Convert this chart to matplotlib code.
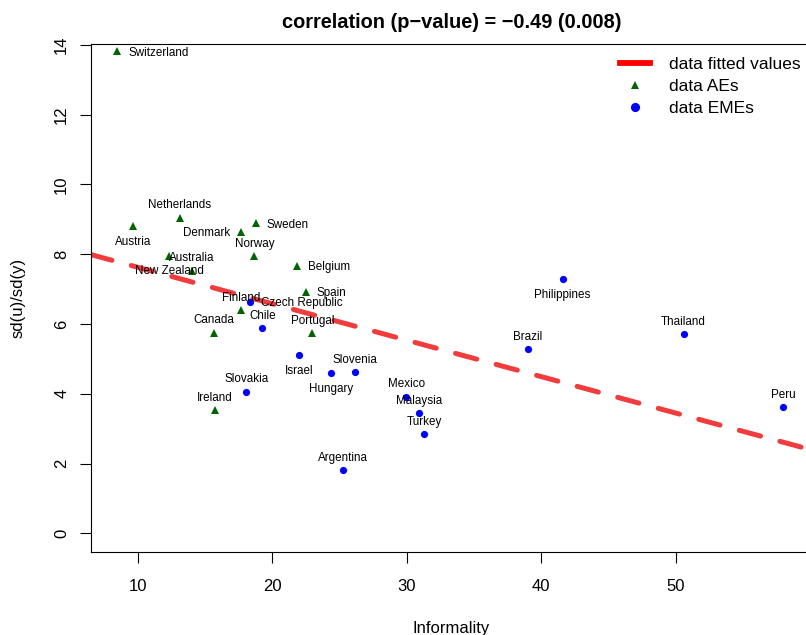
import numpy as np
import matplotlib
matplotlib.use("Agg")
import matplotlib.pyplot as plt
from matplotlib.lines import Line2D

plt.rcParams['font.family'] = ['Liberation Sans', 'DejaVu Sans']

# data: advanced economies (AEs)
ae_names = ["Switzerland", "Austria", "Netherlands", "Denmark", "Sweden", "Norway",
            "New Zealand", "Australia", "Belgium", "Spain", "Finland", "Canada",
            "Portugal", "Ireland"]
ae_x = [8.45, 9.64, 13.14, 17.68, 18.77, 18.67, 12.34, 14.01, 21.86, 22.49, 17.70,
        15.67, 22.98, 15.76]
ae_y = [13.82, 8.81, 9.04, 8.64, 8.89, 7.95, 7.96, 7.53, 7.67, 6.93, 6.40, 5.75,
        5.73, 3.53]
# label side, R style: 1 below, 2 left, 3 above, 4 right
ae_pos = [4, 1, 3, 2, 4, 3, 1, 3, 4, 4, 3, 3, 3, 3]

# data: emerging market economies (EMEs)
eme_names = ["Czech Republic", "Chile", "Israel", "Hungary", "Slovenia", "Slovakia",
             "Mexico", "Malaysia", "Turkey", "Argentina", "Brazil", "Philippines",
             "Thailand", "Peru"]
eme_x = [18.37, 19.26, 21.99, 24.39, 26.18, 18.07, 29.97, 30.92, 31.29, 25.29, 39.0,
         41.6, 50.6, 58.01]
eme_y = [6.63, 5.88, 5.12, 4.59, 4.62, 4.06, 3.91, 3.44, 2.84, 1.81, 5.27, 7.28,
         5.70, 3.61]
eme_pos = [4, 3, 1, 1, 3, 3, 3, 3, 3, 3, 3, 1, 3, 3]

# fitted line over all countries
all_x = np.array(ae_x + eme_x)
all_y = np.array(ae_y + eme_y)
slope, intercept = np.polyfit(all_x, all_y, 1)

W, H = 806, 635
fig = plt.figure(figsize=(W / 100, H / 100), dpi=100)
left, right, top, bottom = 90.7, 812, 44, 551.7
ax = fig.add_axes([left / W, 1 - bottom / H, (right - left) / W, (bottom - top) / H])

ax.axline((0, intercept), slope=slope, color='#F03C3C', lw=3.6,
          dashes=(4.4, 4.0), dash_capstyle='round', zorder=1)
ax.plot(ae_x, ae_y, '^', color='#006400', ms=5.6, mew=0, zorder=3)
ax.plot(eme_x, eme_y, 'o', color='#0000FF', ms=5.2, mew=0, zorder=3)

offsets = {1: ((0, -11.4), 'center', 'center'),
           2: ((-8, -1), 'right', 'center'),
           3: ((0, 9), 'center', 'center'),
           4: ((8, -1), 'left', 'center')}


def label_points(names, xs, ys, poss):
    for n, x, y, p in zip(names, xs, ys, poss):
        off, ha, va = offsets[p]
        ax.annotate(n, (x, y), xytext=off, textcoords='offset points',
                    ha=ha, va=va, fontsize=8.4, zorder=4)


label_points(ae_names, ae_x, ae_y, ae_pos)
label_points(eme_names, eme_x, eme_y, eme_pos)

ax.set_xlim(6.497, 6.497 + (right - left) / 13.445)
ax.set_ylim(-(bottom - 533.3) / 34.88, (533.3 - top) / 34.88)
ax.set_xticks([10, 20, 30, 40, 50])
ax.set_yticks([0, 2, 4, 6, 8, 10, 12, 14])
ax.tick_params(axis='both', length=8, width=0.8, labelsize=12, direction='out')
ax.tick_params(axis='x', pad=12)
ax.tick_params(axis='y', pad=7.5, labelrotation=90)
for t in ax.get_yticklabels():
    t.set_va('center')
for s in ax.spines.values():
    s.set_linewidth(0.8)

ax.set_xlabel('Informality', fontsize=12)
ax.xaxis.set_label_coords(0.5, (bottom - 628) / (bottom - top))
ax.xaxis.label.set_va('center')
ax.set_ylabel('sd(u)/sd(y)', fontsize=12)
ax.yaxis.set_label_coords((18 - left) / (right - left), 0.5)
ax.yaxis.label.set_va('center')

ax.set_title('correlation (p\u2212value) = \u22120.49 (0.008)', fontsize=14.4,
             fontweight='bold', y=(bottom - 22) / (bottom - top), va='center', pad=0)

handles = [Line2D([], [], color='red', lw=4.2),
           Line2D([], [], marker='^', ls='', color='#006400', ms=5.6, mew=0),
           Line2D([], [], marker='o', ls='', color='#0000FF', ms=6.6, mew=0)]
fig.legend(handles, ['data fitted values', 'data AEs', 'data EMEs'],
           loc='upper left', bbox_to_anchor=(620 / W, 1 - 57 / H),
           bbox_transform=fig.transFigure, frameon=False, fontsize=12.5,
           handlelength=1.7, handletextpad=1.1, labelspacing=0.4,
           borderpad=0, borderaxespad=0)

fig.savefig('out.png', dpi=100)
